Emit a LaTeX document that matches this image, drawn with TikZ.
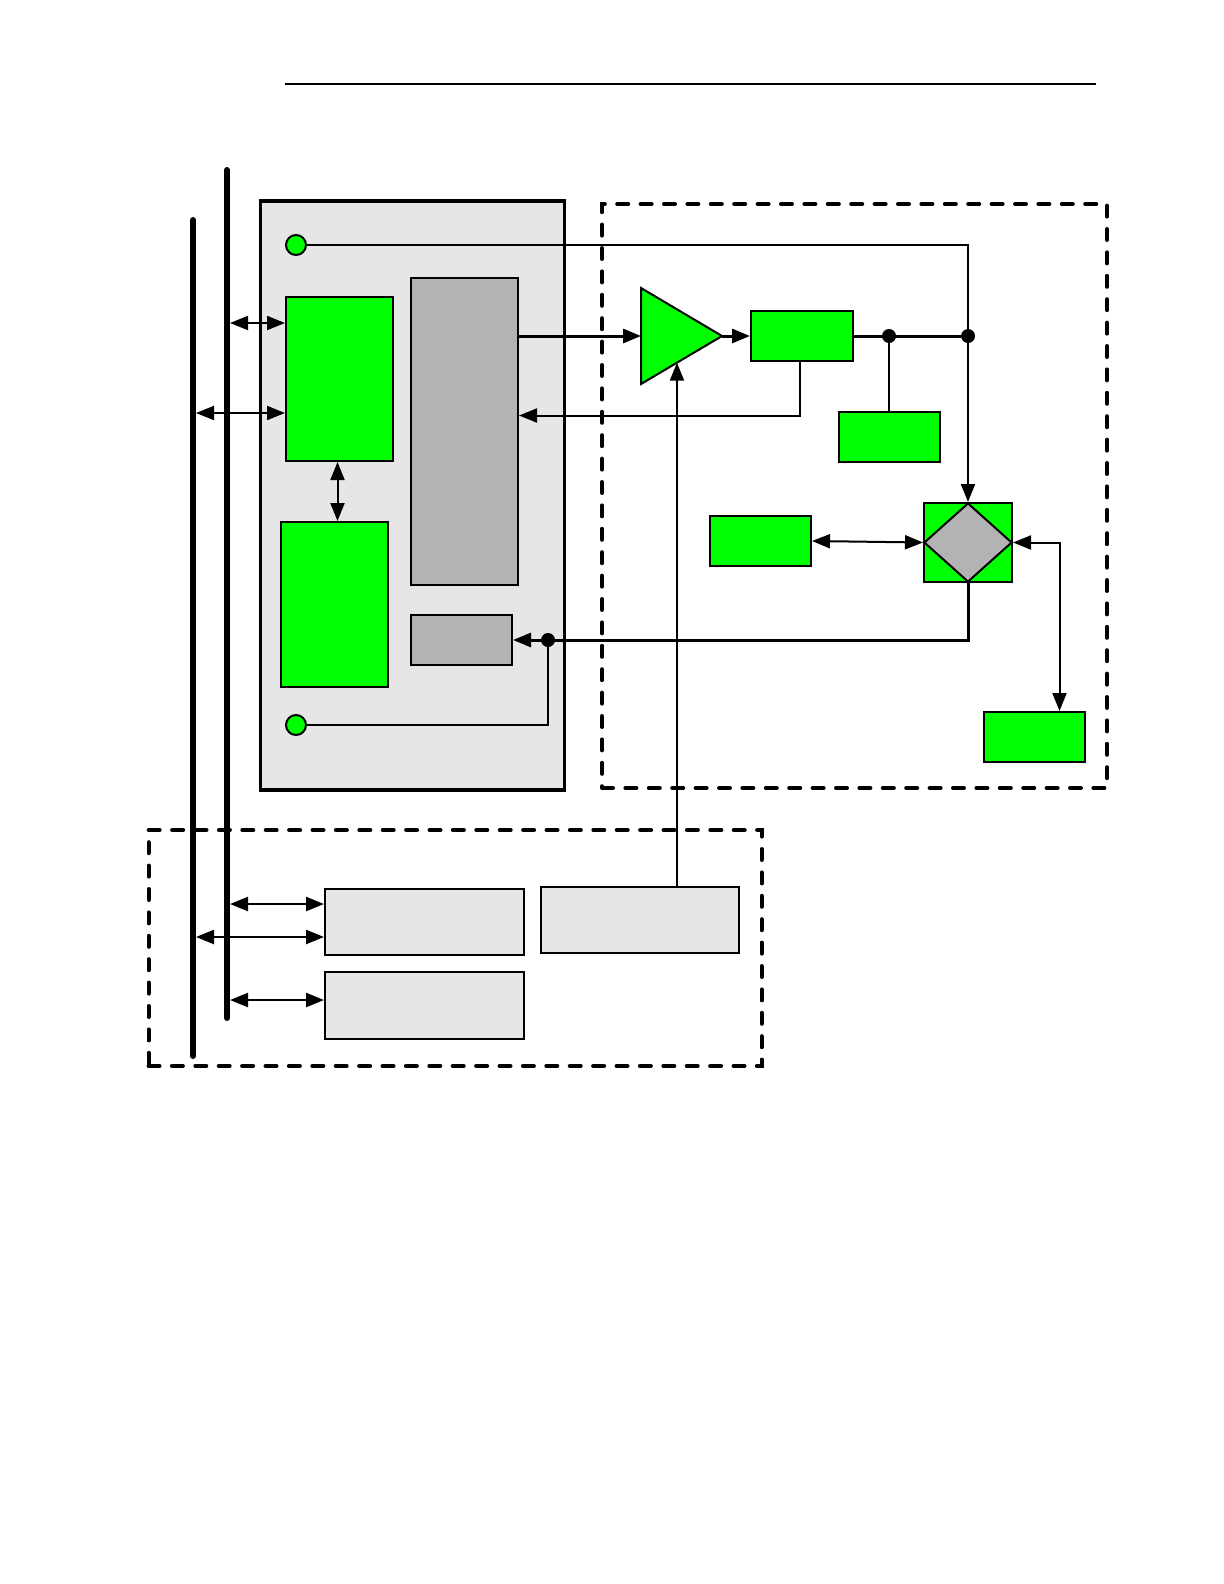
\documentclass[tikz,border=0pt]{standalone}
\usepackage{tikz}
\usetikzlibrary{arrows.meta,shapes.geometric,calc}
\definecolor{cgreen}{HTML}{00FF00}
\definecolor{cpanel}{HTML}{E6E6E6}
\definecolor{cgray}{HTML}{B3B3B3}
\tikzset{
  sz/.style 2 args={minimum width=#1*0.5pt, minimum height=#2*0.5pt},
  fbox/.style={draw, line width=1pt, inner sep=0pt},
  ngreen/.style={fbox, fill=cgreen},
  ngray/.style={fbox, fill=cgray},
  nlight/.style={fbox, fill=cpanel},
  npanel/.style={fbox, fill=cpanel, line width=1.75pt},
  nled/.style={circle, draw, line width=1pt, fill=cgreen, minimum size=10pt, inner sep=0pt},
  jdot/.style={circle, fill=black, minimum size=7pt, inner sep=0pt},
  zone/.style={draw, line width=2pt, line cap=round, dash pattern=on 5.5pt off 6.2pt, inner sep=0pt},
  bus/.style={line width=3pt, line cap=round},
  wire/.style={line width=1pt},
  flow/.style={-{Triangle[length=9pt,width=7pt]}, line width=1pt},
  flowb/.style={flow, line width=1.5pt},
  dflow/.style={{Triangle[length=9pt,width=7pt]}-{Triangle[length=9pt,width=7pt]}, line width=1pt},
}
\begin{document}
\begin{tikzpicture}[x=0.5pt, y=-0.5pt]
  \useasboundingbox (0,0) rectangle (1224,1584);
  % header rule
  \coordinate (rl) at (285,84);
  \coordinate (rr) at (1096,84);
  \draw[line width=0.75pt] (rl) -- (rr);

  % board and zones
  \node[npanel, sz={304}{589}] (panel) at (412.5,495.5) {};
  \node[zone, sz={505}{584}] (zright) at (854.5,496) {};
  \node[zone, sz={613}{236}] (zbot) at (455,948) {};

  % buses
  \coordinate (b1t) at (193,220);
  \coordinate (b1b) at (193,1056);
  \coordinate (b2t) at (227,170);
  \coordinate (b2b) at (227,1018);
  \coordinate (b1e) at (196,0);
  \coordinate (b2e) at (230,0);
  \draw[bus] (b1t) -- (b1b);
  \draw[bus] (b2t) -- (b2b);

  % blocks on the board
  \node[ngreen, sz={107}{164}] (grn1) at (339.5,379) {};
  \node[ngreen, sz={107}{165}] (grn2) at (334.5,604.5) {};
  \node[ngray, sz={107}{307}] (gtall) at (464.5,431.5) {};
  \node[ngray, sz={101}{50}] (gsmall) at (461.5,640) {};
  \node[nled] (ledA) at (296,245) {};
  \node[nled] (ledB) at (296,725) {};

  % amplifier
  \coordinate (amp-tl) at (641,288);
  \coordinate (amp-bl) at (641,384);
  \coordinate (amp-tip) at (722,336);
  \coordinate (amp-in) at (641,336);
  \coordinate (amp-b) at ($(amp-tip)!0.556!(amp-bl)$);
  \draw[fill=cgreen, line width=1pt] (amp-tl) -- (amp-tip) -- (amp-bl) -- cycle;

  % right zone blocks
  \node[ngreen, sz={102}{50}] (gamp) at (802,336) {};
  \node[ngreen, sz={101}{50}] (gtap) at (889,437) {};
  \node[ngreen, sz={88}{79}] (mix) at (968,542.5) {};
  \node[diamond, draw, fill=cgray, line width=1pt, inner sep=0pt, sz={88}{79}] (dia) at (mix) {};
  \node[ngreen, sz={101}{50}] (gleft) at (760.5,541) {};
  \node[ngreen, sz={101}{50}] (gout) at (1034.5,737) {};

  % bottom zone blocks
  \node[nlight, sz={199}{66}] (boxA) at (424.5,922) {};
  \node[nlight, sz={198}{66}] (boxB) at (640,920) {};
  \node[nlight, sz={199}{67}] (boxC) at (424.5,1005.5) {};

  % junctions
  \node[jdot] (j1) at (889,336) {};
  \node[jdot] (j2) at (968,336) {};
  \node[jdot] (j3) at (548,640) {};

  % bus taps
  \coordinate (g1a) at ([yshift=28pt]grn1.west);
  \coordinate (g1b) at ([yshift=-17pt]grn1.west);
  \coordinate (bA1) at ([yshift=9pt]boxA.west);
  \coordinate (bA2) at ([yshift=-7.5pt]boxA.west);
  \coordinate (bC) at ([yshift=2.75pt]boxC.west);
  \draw[dflow] (b2e |- g1a) -- (g1a);
  \draw[dflow] (b1e |- g1b) -- (g1b);
  \draw[dflow, line width=1.2pt] (b2e |- bA1) -- (bA1);
  \draw[dflow, line width=1.2pt] (b1e |- bA2) -- (bA2);
  \draw[dflow, line width=1.2pt] (b2e |- bC) -- (bC);
  \draw[dflow] ([xshift=-1pt]grn1.south) -- ([xshift=-1pt]grn1.south |- grn2.north);

  % signal path
  \draw[flowb] (gtall.east |- amp-in) -- (amp-in);
  \draw[flowb] (amp-tip) -- (gamp.west);
  \draw[line width=1.5pt] (gamp.east) -- (j2);
  \draw[wire] (j1) -- (gtap.north);
  \draw[wire] (ledA) -- (ledA -| j2) -- (j2);
  \draw[flow] (j2) -- (mix.north);
  \draw[flow] ([xshift=-1pt]gamp.south) |- ([yshift=8pt]gtall.east);
  \draw[dflow] (gleft.east) -- (mix.west);
  \draw[dflow] (mix.east) -| ([xshift=12.5pt]gout.north);
  \draw[flowb] (mix.south) |- (gsmall.east);
  \draw[wire] (ledB) -| (j3);
  \draw[flow] (amp-b |- boxB.north) -- (amp-b);
\end{tikzpicture}
\end{document}
